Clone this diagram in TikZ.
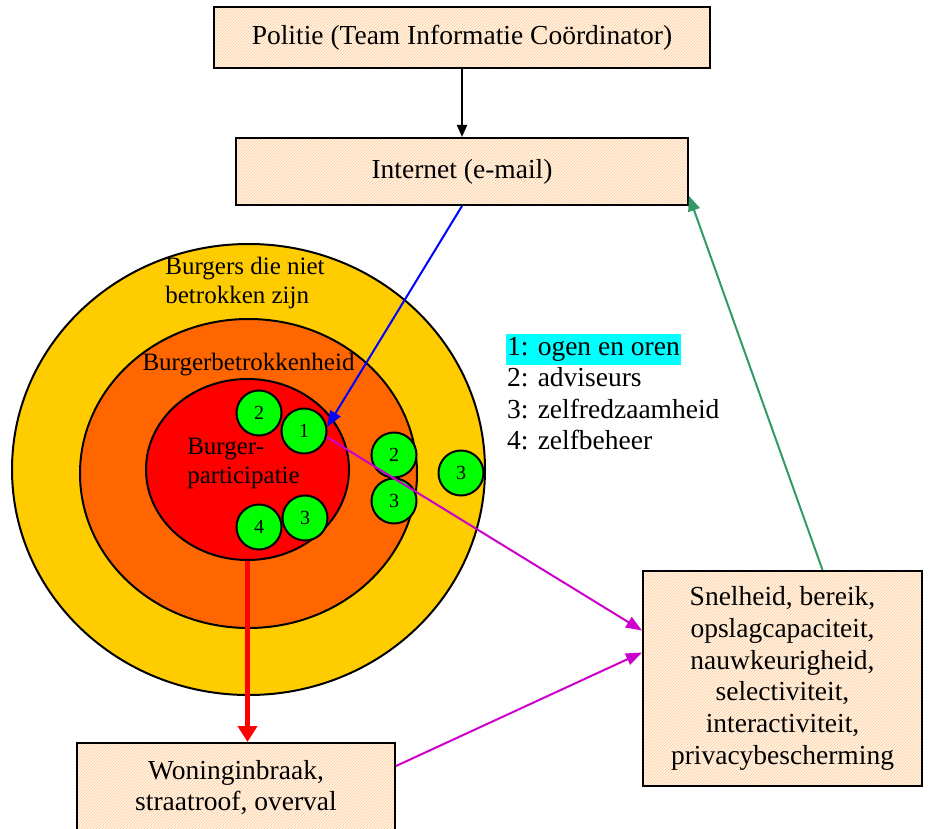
\documentclass[tikz,border=0pt]{standalone}
\usepackage{fontspec}
\setmainfont{Liberation Serif}
\usetikzlibrary{arrows.meta,positioning,shapes.geometric,patterns}
\definecolor{ringgeel}{HTML}{FFCC00}
\definecolor{ringoranje}{HTML}{FF6600}
\definecolor{ringrood}{HTML}{FF0000}
\definecolor{bolgroen}{HTML}{00FF00}
\definecolor{legcyaan}{HTML}{00FFFF}
\definecolor{pijlblauw}{HTML}{0000FF}
\definecolor{pijlpaars}{HTML}{CC00CC}
\definecolor{pijlgroen}{HTML}{339966}
\definecolor{boxbg}{HTML}{FFF6EC}
\definecolor{hatch}{HTML}{FFC890}
\tikzset{
  hatchbox/.style={draw, line width=2pt, align=center, inner sep=0pt, preaction={fill=boxbg},
    pattern=north east lines, pattern color=hatch, font=\fontsize{27.5}{31.7}\selectfont},
  ring/.style={ellipse, draw, line width=2pt, inner sep=0pt},
  bol/.style={circle, draw, line width=2pt, fill=bolgroen, minimum size=45pt, inner sep=0pt,
    font=\fontsize{20}{22}\selectfont},
  ringlabel/.style={align=left, inner sep=0pt, font=\fontsize{25}{29}\selectfont},
  legend/.style={inner xsep=1pt, inner ysep=1pt, text height=21pt, text depth=8pt,
    font=\fontsize{27.5}{30}\selectfont},
  pijl/.style={-{Triangle[length=16pt,width=12pt]}, line width=2pt}
}
\begin{document}
\begin{tikzpicture}[x=1pt, y=-1pt]
  \useasboundingbox (0,0) rectangle (929,829);
  % boxes
  \node[hatchbox, minimum width=496pt, minimum height=61pt] (politie) at (462,37.5) {Politie (Team Informatie Coördinator)};
  \node[hatchbox, minimum width=452pt, minimum height=67pt] (internet) at (462,171.5) {Internet (e-mail)};
  \node[hatchbox, minimum width=279pt, minimum height=215pt] (snel) at (782.5,678.5)
    {Snelheid, bereik,\\opslagcapaciteit,\\nauwkeurigheid,\\selectiviteit,\\interactiviteit,\\privacybescherming};
  \node[hatchbox, minimum width=318pt, minimum height=89pt] (woning) at (236,787.5) {Woninginbraak,\\straatroof, overval};
  % rings
  \node[ring, fill=ringgeel, minimum width=473pt, minimum height=451pt] (buiten) at (248.5,469.5) {};
  \node[ring, fill=ringoranje, minimum width=337pt, minimum height=309pt] (midden) at (248.5,473.5) {};
  \node[ring, fill=ringrood, minimum width=203pt, minimum height=181pt] (kern) at (247.5,469.5) {};
  \node[ringlabel] (lbuiten) at (245,283) {Burgers die niet\\betrokken zijn};
  \node[ringlabel] (lmidden) at (248.5,365) {Burgerbetrokkenheid};
  \node[ringlabel] (lkern) at (243.5,463) {Burger-\\participatie};
  % groene bollen
  \node[bol] (n2a) at (259,413) {2};
  \node[bol] (n1) at (304,431) {1};
  \node[bol] (n4) at (259,527) {4};
  \node[bol] (n3a) at (305,518) {3};
  \node[bol] (n2b) at (394,455) {2};
  \node[bol] (n3b) at (394,501) {3};
  \node[bol] (n3c) at (461,473) {3};
  % legenda
  \node[legend, fill=legcyaan, anchor=west] (l1) at (506,349) {1: ogen en oren};
  \node[legend, below=0pt of l1.south west, anchor=north west] (l2) {2: adviseurs};
  \node[legend, below=0pt of l2.south west, anchor=north west] (l3) {3: zelfredzaamheid};
  \node[legend, below=0pt of l3.south west, anchor=north west] (l4) {4: zelfbeheer};
  % pijlen
  \draw[pijl, -{Triangle[length=12pt,width=10pt]}] (politie) -- (internet);
  \draw[pijl, pijlblauw] (internet.south) -- (n1.10);
  \draw[pijl, pijlpaars] (n1.-15) -- ([yshift=48pt]snel.west);
  \draw[pijl, pijlpaars] ([yshift=21.5pt]woning.east) -- ([yshift=26pt]snel.west);
  \draw[pijl, pijlgroen, -{Triangle[length=15pt,width=12pt]}] ([xshift=40pt]snel.north) -- ([yshift=10pt]internet.south east);
  \draw[ringrood, line width=5pt, -{Triangle[length=16pt,width=19pt]}] (kern.south) -- (kern.south |- woning.north);
\end{tikzpicture}
\end{document}
